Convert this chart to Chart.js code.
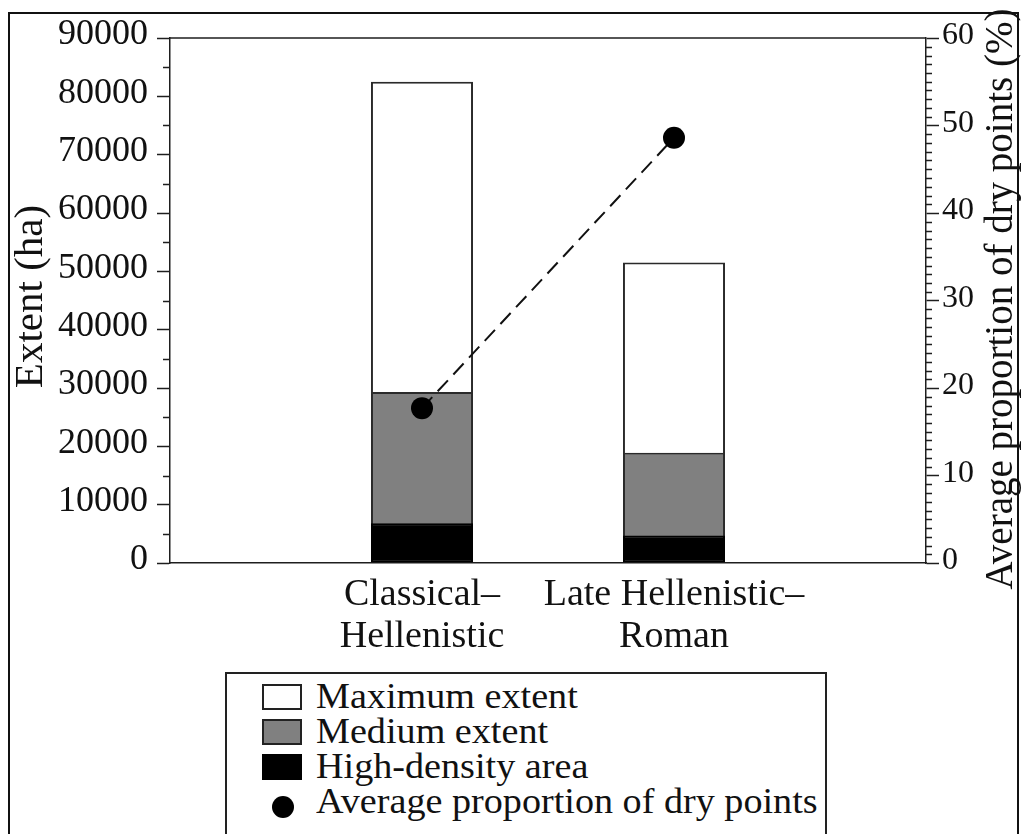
<!DOCTYPE html>
<html>
<head>
<meta charset="utf-8">
<title>Extent and dry points</title>
<script src="https://cdn.jsdelivr.net/npm/chart.js@4.4.1/dist/chart.umd.min.js"></script>
<style>
  html, body { margin: 0; padding: 0; background: #fff; }
  #wrap { position: relative; width: 1021px; height: 834px; overflow: hidden; background: #fff; }
  #chart { position: absolute; left: 0; top: 0; }
  #frame { position: absolute; left: 8px; top: 12px; width: 1011px; height: 900px; border: 2px solid #111; box-sizing: border-box; pointer-events: none; }
  #legend { position: absolute; left: 225px; top: 672px; width: 602px; height: 300px; border: 2px solid #222; box-sizing: border-box; background: #fff;
            font-family: "Liberation Serif", "Times New Roman", serif; font-size: 36px; color: #111; }
  .row { position: absolute; left: 0; height: 35px; line-height: 35px; white-space: nowrap; }
  .row .txt { position: absolute; left: 89px; top: 0; transform: scaleX(1.06); transform-origin: 0 50%; }
  .sw { position: absolute; left: 35px; width: 40px; height: 26px; box-sizing: border-box; border: 2px solid #222; }
  .dot { position: absolute; left: 45px; width: 22px; height: 22px; border-radius: 50%; background: #000; }
</style>
</head>
<body>
<div id="wrap">
  <canvas id="chart" width="1021" height="834"></canvas>
  <div id="legend"></div>
  <div id="frame"></div>
</div>
<script>
// Periods on the x axis (empty slots keep the bars away from the frame edges)
const categories = ['', ['Classical–', 'Hellenistic'], ['Late Hellenistic–', 'Roman'], ''];

// Extent in hectares
const maximumExtent   = [null, 82500, 51500, null];
const mediumExtent    = [null, 29300, 18900, null];
const highDensityArea = [null, 6800, 4700, null];

// Average proportion of dry points, %
const dryPointShare = [null, 17.7, 48.6, null];

// Tick labels
const extentTicks = [0, 10000, 20000, 30000, 40000, 50000, 60000, 70000, 80000, 90000];
const shareTicks  = [0, 10, 20, 30, 40, 50, 60];

const legendItems = [
  { label: 'Maximum extent', fill: '#ffffff', kind: 'box' },
  { label: 'Medium extent', fill: '#808080', kind: 'box' },
  { label: 'High-density area', fill: '#000000', kind: 'box' },
  { label: 'Average proportion of dry points', fill: '#000000', kind: 'dot' }
];

const SERIF = '"Liberation Serif", "Times New Roman", serif';
const INK = '#1e1e1e';

Chart.defaults.font.family = SERIF;
Chart.defaults.color = '#111';

// Minor ticks, the top edge of the plot box and both rotated axis titles
const decorations = {
  id: 'decorations',
  afterDraw(chart) {
    const ctx = chart.ctx;
    const area = chart.chartArea;
    const yL = chart.scales.y;
    const yR = chart.scales.y2;
    ctx.save();
    ctx.strokeStyle = INK;
    ctx.lineWidth = 1.5;

    // top edge
    ctx.beginPath();
    ctx.moveTo(area.left, area.top);
    ctx.lineTo(area.right, area.top);
    ctx.stroke();

    // minor ticks on the left axis, halfway between labelled ticks
    ctx.beginPath();
    for (let i = 0; i < extentTicks.length - 1; i++) {
      const v = (extentTicks[i] + extentTicks[i + 1]) / 2;
      const py = Math.round(yL.getPixelForValue(v)) + 0.5;
      ctx.moveTo(area.left - 7, py);
      ctx.lineTo(area.left, py);
    }
    // minor ticks on the right axis, one per percent
    for (let i = 0; i < shareTicks.length - 1; i++) {
      const a = shareTicks[i], b = shareTicks[i + 1];
      for (let k = 1; k < 10; k++) {
        const v = a + (b - a) * k / 10;
        const py = Math.round(yR.getPixelForValue(v)) + 0.5;
        ctx.moveTo(area.right, py);
        ctx.lineTo(area.right + 6, py);
      }
    }
    ctx.stroke();

    // axis titles, both reading bottom to top
    ctx.fillStyle = '#111';
    ctx.textAlign = 'center';
    ctx.textBaseline = 'alphabetic';

    ctx.save();
    ctx.translate(42, (area.top + area.bottom) / 2 - 4);
    ctx.rotate(-Math.PI / 2);
    ctx.font = '41px ' + SERIF;
    ctx.fillText('Extent (ha)', 0, 0);
    ctx.restore();

    ctx.save();
    ctx.translate(1012, 299);
    ctx.rotate(-Math.PI / 2);
    ctx.font = '39px ' + SERIF;
    ctx.fillText('Average proportion of dry points (%)', 0, 0);
    ctx.restore();

    ctx.restore();
  }
};

const barCommon = {
  type: 'bar',
  grouped: false,
  borderColor: '#2a2a2a',
  borderWidth: 2,
  borderSkipped: false,
  categoryPercentage: 1,
  barPercentage: 0.405,
  yAxisID: 'y'
};

new Chart(document.getElementById('chart'), {
  data: {
    labels: categories,
    datasets: [
      {
        type: 'line',
        label: 'Average proportion of dry points',
        data: dryPointShare,
        yAxisID: 'y2',
        borderColor: '#111',
        borderWidth: 2,
        borderDash: [15, 8],
        pointRadius: 11,
        pointHoverRadius: 11,
        pointBackgroundColor: '#000',
        pointBorderColor: '#000',
        pointBorderWidth: 0,
        fill: false,
        tension: 0,
        order: 0
      },
      Object.assign({}, barCommon, { label: 'High-density area', data: highDensityArea, backgroundColor: '#000000', borderColor: '#000', order: 1 }),
      Object.assign({}, barCommon, { label: 'Medium extent', data: mediumExtent, backgroundColor: '#808080', order: 2 }),
      Object.assign({}, barCommon, { label: 'Maximum extent', data: maximumExtent, backgroundColor: '#ffffff', order: 3 })
    ]
  },
  options: {
    responsive: false,
    animation: false,
    events: [],
    layout: { padding: { left: 0, right: 0, top: 38, bottom: 0 } },
    plugins: { legend: { display: false }, tooltip: { enabled: false }, title: { display: false } },
    scales: {
      x: {
        type: 'category',
        offset: false,
        grid: { display: false, drawTicks: false },
        border: { display: true, color: INK, width: 1.5 },
        ticks: {
          autoSkip: false,
          maxRotation: 0,
          minRotation: 0,
          padding: 11,
          color: '#111',
          font: { size: 38, lineHeight: '42px' }
        },
        afterFit(scale) { scale.height = 271; }
      },
      y: {
        position: 'left',
        min: 0,
        max: 90000,
        afterBuildTicks(scale) { scale.ticks = extentTicks.map(v => ({ value: v })); },
        grid: { drawOnChartArea: false, tickLength: 13, tickColor: INK, tickWidth: 1.5 },
        border: { display: true, color: INK, width: 1.5 },
        ticks: {
          padding: 9,
          labelOffset: -3,
          color: '#111',
          font: { size: 36 },
          callback: v => String(v)
        },
        afterFit(scale) { scale.width = 170; }
      },
      y2: {
        position: 'right',
        min: 0,
        max: 60,
        afterBuildTicks(scale) { scale.ticks = shareTicks.map(v => ({ value: v })); },
        grid: { drawOnChartArea: false, tickLength: 13, tickColor: INK, tickWidth: 1.5 },
        border: { display: true, color: INK, width: 1.5 },
        ticks: {
          padding: 3,
          labelOffset: -2,
          color: '#111',
          font: { size: 32 },
          callback: v => String(v)
        },
        afterFit(scale) { scale.width = 95; }
      }
    }
  },
  plugins: [decorations]
});

// Legend box below the axis labels
const legendEl = document.getElementById('legend');
legendItems.forEach((item, i) => {
  const row = document.createElement('div');
  row.className = 'row';
  row.style.top = (5 + i * 35) + 'px';
  const mark = document.createElement('div');
  if (item.kind === 'box') {
    mark.className = 'sw';
    mark.style.top = '5px';
    mark.style.background = item.fill;
    if (item.fill === '#000000') mark.style.borderColor = '#000';
  } else {
    mark.className = 'dot';
    mark.style.top = '12px';
    mark.style.background = item.fill;
  }
  const txt = document.createElement('span');
  txt.className = 'txt';
  txt.textContent = item.label;
  row.appendChild(mark);
  row.appendChild(txt);
  legendEl.appendChild(row);
});
</script>
</body>
</html>
